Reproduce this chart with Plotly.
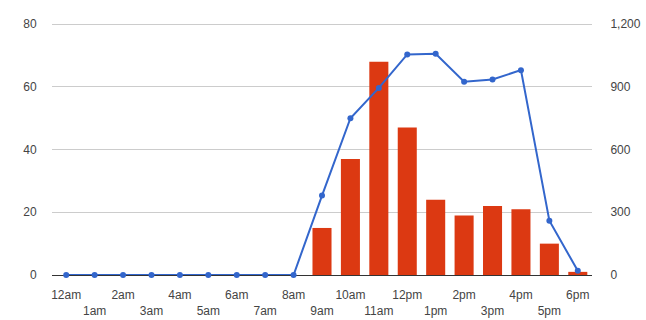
import plotly.graph_objects as go

hours = ["12am", "1am", "2am", "3am", "4am", "5am", "6am", "7am", "8am", "9am",
         "10am", "11am", "12pm", "1pm", "2pm", "3pm", "4pm", "5pm", "6pm"]
bar_values = [0, 0, 0, 0, 0, 0, 0, 0, 0, 15, 37, 68, 47, 24, 19, 22, 21, 10, 1]
line_values = [0, 0, 0, 0, 0, 0, 0, 0, 0, 380, 750, 895, 1055, 1058, 925, 935, 980, 260, 20]
left_ticks = [0, 20, 40, 60, 80]
right_ticks = [0, 300, 600, 900, 1200]

tick_text = [h if i % 2 == 0 else "<br>" + h for i, h in enumerate(hours)]

fig = go.Figure()
fig.add_trace(go.Bar(x=hours, y=bar_values, marker_color="#dc3912",
                     marker_line_width=0, yaxis="y", name="bars"))
fig.add_trace(go.Scatter(x=hours, y=line_values, mode="lines+markers",
                         line=dict(color="#3366cc", width=2),
                         marker=dict(color="#3366cc", size=6),
                         cliponaxis=False,
                         yaxis="y2", name="line"))

font = dict(family="Liberation Sans, Arial, sans-serif", size=12, color="#444")

fig.update_layout(
    width=646, height=320,
    margin=dict(l=52, r=54, t=21, b=45),
    paper_bgcolor="white", plot_bgcolor="white",
    showlegend=False,
    bargap=0.33,
    font=font,
    xaxis=dict(tickmode="array", tickvals=hours, ticktext=tick_text,
               range=[-0.5, len(hours) - 0.5],
               tickangle=0, automargin=False,
               showgrid=False, zeroline=False, showline=False,
               ticks="outside", ticklen=9, tickcolor="rgba(0,0,0,0)",
               tickfont=font, fixedrange=True),
    yaxis=dict(range=[0, 81], tickvals=left_ticks, showgrid=True,
               gridcolor="#cccccc", gridwidth=1, automargin=False,
               zeroline=True, zerolinecolor="#333333", zerolinewidth=1,
               showline=False, ticks="outside", ticklen=12,
               tickcolor="rgba(0,0,0,0)", tickfont=font),
    yaxis2=dict(range=[0, 1215], tickvals=right_ticks, overlaying="y",
                side="right", showgrid=False, zeroline=False, showline=False,
                automargin=False,
                tickformat=",", ticks="outside", ticklen=15,
                tickcolor="rgba(0,0,0,0)", tickfont=font),
)

fig.write_html("out.html", config={"displayModeBar": False},
               post_script="document.body.style.margin='0';document.body.style.padding='0';")
